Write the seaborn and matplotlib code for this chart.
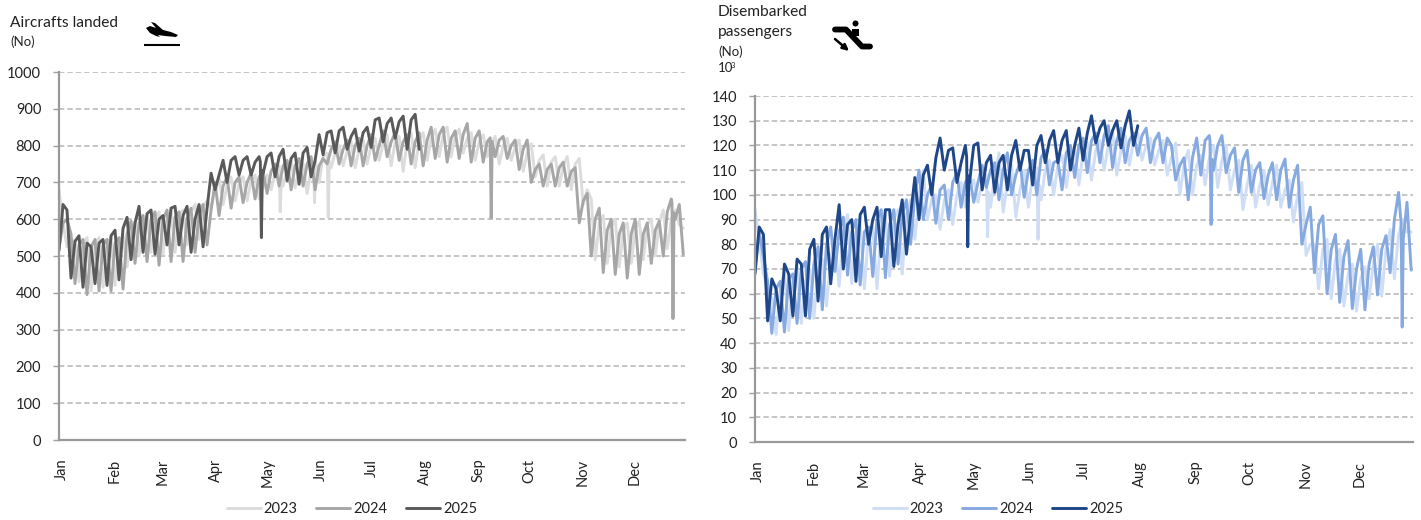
import numpy as np
import pandas as pd
import matplotlib
matplotlib.use("Agg")
import matplotlib.pyplot as plt
from matplotlib.patches import Polygon, Circle, Rectangle
from matplotlib.transforms import ScaledTranslation
import seaborn as sns

sns.set_style("white")
plt.rcParams['font.family'] = ['Lato', 'DejaVu Sans']

months = ["Jan", "Feb", "Mar", "Apr", "May", "Jun", "Jul", "Aug", "Sep", "Oct", "Nov", "Dec"]
month_start = [0, 31, 59, 90, 120, 151, 181, 212, 243, 273, 304, 334]
years = ["2023", "2024", "2025"]

# values, three samples per week
air_2023 = [680, 590, 525, 545, 540, 430, 530, 550, 405, 530, 550, 415, 535, 550, 420, 540, 555, 470, 570, 595,
            500, 590, 610, 510, 600, 620, 505, 600, 625, 510, 610, 625, 530, 620, 640, 545, 635, 650, 630, 680, 710,
            640, 690, 715, 650, 695, 715, 650, 705, 720, 655, 690, 720, 680, 725, 745, 690, 735, 760, 685, 730, 750,
            670, 735, 765, 700, 770, 780, 740, 780, 800, 745, 785, 810, 740, 790, 815, 750, 800, 820, 760, 805, 830,
            745, 810, 825, 730, 810, 835, 740, 815, 835, 760, 820, 845, 770, 830, 850, 770, 825, 845, 780, 820, 835,
            760, 810, 830, 770, 805, 825, 750, 800, 820, 760, 795, 815, 730, 780, 805, 715, 760, 775, 690, 755, 770,
            690, 745, 770, 680, 750, 765, 640, 680, 655, 490, 590, 610, 480, 580, 600, 470, 570, 590, 480, 575, 595,
            490, 585, 600, 500, 590, 625, 520, 600, 625, 585, 575]
air_2024 = [520, 590, 600, 560, 425, 530, 545, 395, 525, 545, 405, 530, 545, 405, 535, 550, 410, 560, 595,
            480, 590, 610, 485, 600, 620, 475, 600, 625, 485, 605, 620, 485, 600, 630, 510, 610, 640, 530, 625, 700,
            610, 690, 715, 630, 700, 715, 645, 700, 725, 655, 715, 730, 670, 730, 750, 690, 745, 760, 680, 745, 765,
            690, 750, 770, 680, 745, 765, 750, 790, 810, 750, 790, 815, 745, 800, 820, 745, 800, 830, 760, 800, 840,
            770, 810, 835, 760, 810, 830, 750, 810, 835, 745, 815, 850, 765, 830, 850, 755, 820, 840, 765, 830, 860,
            755, 820, 840, 755, 810, 825, 770, 815, 825, 765, 800, 815, 735, 790, 815, 700, 735, 750, 690, 735, 750,
            690, 740, 755, 690, 730, 740, 590, 650, 670, 500, 600, 630, 455, 570, 600, 450, 560, 590, 440, 560, 600,
            450, 560, 590, 480, 570, 595, 500, 620, 655, 600, 640, 505]
air_2025 = [515, 640, 625, 440, 540, 555, 415, 535, 525, 425, 535, 545, 420, 555, 570, 435, 575, 605, 490, 590, 635,
            510, 615, 625, 505, 600, 610, 530, 630, 635, 530, 610, 635, 510, 600, 640, 525, 630, 725, 680, 720, 760,
            700, 760, 770, 720, 760, 770, 720, 755, 770, 725, 770, 780, 715, 770, 790, 705, 765, 780, 695, 780, 795,
            715, 760, 830, 775, 835, 840, 780, 840, 850, 790, 825, 845, 785, 835, 850, 795, 870, 875, 810, 860, 875,
            820, 865, 880, 790, 870, 885, 790]

pax_2023 = [94, 82, 68, 62, 58, 43.5, 62, 69, 45, 66, 71, 48, 65, 70, 50, 70, 74, 55, 75, 80,
            63, 85, 92, 64, 85, 88, 62, 85, 87, 62, 86, 92, 67, 90, 94, 68, 92, 98, 82, 100, 110,
            90, 98, 100, 86, 98, 102, 88, 100, 105, 95, 103, 106, 97, 105, 108, 95, 108, 117, 93, 105, 112,
            91, 102, 110, 95, 108, 111, 98, 110, 114, 100, 112, 116, 103, 115, 118, 104, 117, 121, 106, 118, 122,
            110, 120, 126, 108, 118, 124, 112, 122, 125, 114, 120, 123, 112, 118, 122, 108, 115, 121, 100, 112, 118,
            100, 112, 116, 104, 115, 120, 103, 114, 120, 102, 110, 114, 94, 104, 112, 95, 104, 110, 96, 105, 112,
            95, 102, 106, 89, 100, 105, 75.5, 80, 80, 62, 78, 82, 58, 74, 78, 55, 68, 72, 53, 66, 71,
            58, 72, 80, 59, 78, 86, 66, 84, 90, 85, 85]
pax_2024 = [70, 85, 75, 65, 44, 62, 65, 44.5, 66, 68, 48, 70, 73, 50, 72, 79, 53.5, 80, 87,
            69, 85, 91, 67.5, 85, 90, 63.5, 85, 87, 67, 90, 94, 66.5, 88, 94, 72, 92, 98, 80, 100, 110,
            90, 100, 104, 88.5, 102, 104, 90, 105, 109, 95, 105, 108, 97, 105, 112, 103, 110, 113, 98, 110, 117,
            100, 108, 113, 99, 110, 114, 100, 115, 118, 104, 113, 114, 102, 117, 120, 107, 120, 123, 109, 122, 125,
            113, 124, 128, 111, 122, 127, 113, 122, 125, 116, 124, 127, 113, 122, 125, 113, 123, 120, 106, 112, 115,
            98, 115, 123, 108, 122, 124, 110, 120, 124, 109, 116, 119, 101, 114, 118, 101, 110, 113, 98.5, 108, 113,
            98, 110, 114.5, 95, 106, 112, 80, 88, 95, 68.5, 88, 91.5, 60, 78, 84, 56.5, 75, 81.5, 54, 70, 78,
            53.5, 72, 79, 59.5, 78, 83.5, 68.5, 90, 101, 80, 97, 69.5]
pax_2025 = [68, 87, 84, 49, 66, 62, 49, 72, 68, 51, 74, 72, 51, 78, 82, 57, 84, 87, 64, 82, 96,
            70, 88, 90, 65, 92, 95, 80, 90, 95, 75, 94, 94, 71, 88, 98, 76, 92, 107, 90, 108, 112,
            100, 115, 123, 110, 118, 119, 105, 113, 120, 105, 120, 121, 102, 113, 116, 101, 113, 116, 102, 116, 122,
            110, 118, 118, 104, 120, 124, 113, 122, 126, 113, 122, 126, 110, 120, 127, 114, 125, 132, 121, 127, 130,
            120, 126, 130, 119, 128, 134, 120, 128]

# one-day drops: day of year, value
air_dips = {"2023": [(129, 620), (149, 645), (157, 605)], "2024": [(252, 603), (358, 330)], "2025": [(118, 550)]}
pax_dips = {"2023": [(129, 83), (157, 82)], "2024": [(253, 88), (359, 46.5)], "2025": [(118, 79)]}

grey_colors = ["#dcdcdc", "#a6a6a6", "#595959"]
blue_colors = ["#cfdef5", "#86a9e0", "#1f4788"]


def build_frame(series, dips):
    rows = []
    for year, vals in zip(years, series):
        days = np.arange(len(vals)) * 7 / 3
        vals = np.array(vals, dtype=float)
        for d, v in dips[year]:
            before = np.interp(d - 0.6, days, vals)
            after = np.interp(d + 0.6, days, vals)
            keep = np.abs(days - d) > 0.6
            days = np.concatenate([days[keep], [d - 0.6, d, d + 0.6]])
            vals = np.concatenate([vals[keep], [before, v, after]])
            order = np.argsort(days)
            days, vals = days[order], vals[order]
        rows.append(pd.DataFrame({"day": days, "value": vals, "year": year}))
    return pd.concat(rows, ignore_index=True)


def px_axes(fig, x0, x1, ytop, ybot):
    return fig.add_axes([x0 / 1421, 1 - ybot / 520, (x1 - x0) / 1421, (ybot - ytop) / 520])


def panel(ax, df, colors, ymax, step):
    sns.lineplot(data=df, x="day", y="value", hue="year", palette=colors, linewidth=2.1, ax=ax,
                 estimator=None, sort=False, legend=False)
    ax.set_xlim(0, 365)
    ax.set_ylim(0, ymax)
    ax.set_yticks(np.arange(0, ymax + 1, step))
    ax.set_xticks(month_start)
    ax.set_xticklabels(months, rotation=90, fontsize=10.5, color="#222222")
    ax.tick_params(axis="y", left=True, length=4.3, width=1, color="#a0a0a0", labelsize=10.5, pad=8.5,
                   labelcolor="#222222")
    ax.tick_params(axis="x", bottom=False, pad=10)
    # month names sit a little right of the month start
    shift = ScaledTranslation(2.5 / 100, 0, ax.figure.dpi_scale_trans)
    for lab in ax.get_xticklabels():
        lab.set_transform(lab.get_transform() + shift)
    ax.set_xlabel("")
    ax.set_ylabel("")
    ax.set_axisbelow(True)
    ax.grid(axis="y", linestyle=(0, (3.5, 2)), color="#b5b5b5", linewidth=1.1)
    ax.grid(axis="x", visible=False)
    for s in ["top", "right"]:
        ax.spines[s].set_visible(False)
    for s in ["left", "bottom"]:
        ax.spines[s].set_color("#999999")
        ax.spines[s].set_linewidth(1.6)


def add_legend(fig, colors, cx):
    handles = [plt.Line2D([], [], color=c, linewidth=2.1) for c in colors]
    fig.legend(handles, years, loc="center", bbox_to_anchor=(cx / 1421, 1 - 509 / 520), ncol=3, frameon=False,
               fontsize=10.5, handlelength=2.33, handletextpad=0.2, columnspacing=1.3, labelcolor="#222222")


fig = plt.figure(figsize=(14.21, 5.2), dpi=100)

ax1 = px_axes(fig, 59, 685, 72, 440)
panel(ax1, build_frame([air_2023, air_2024, air_2025], air_dips), grey_colors, 1000, 100)

ax2 = px_axes(fig, 755, 1413, 96, 442)
panel(ax2, build_frame([pax_2023, pax_2024, pax_2025], pax_dips), blue_colors, 140, 10)

add_legend(fig, grey_colors, 352)
add_legend(fig, blue_colors, 998)

# overlay in picture pixels for titles and icons
over = fig.add_axes([0, 0, 1, 1], facecolor="none")
over.set_xlim(0, 1421)
over.set_ylim(520, 0)
over.axis("off")

over.text(10, 23, "Aircrafts landed", fontsize=11.2, color="#222222", va="center")
over.text(10, 42, "(No)", fontsize=9.5, color="#222222", va="center")
over.text(718, 12, "Disembarked", fontsize=11.2, color="#222222", va="center")
over.text(718, 32, "passengers", fontsize=11.2, color="#222222", va="center")
over.text(718, 52, "(No)", fontsize=9.5, color="#222222", va="center")
over.text(718, 68, "10", fontsize=9.5, color="#222222", va="center")
over.text(731, 65, "3", fontsize=5.5, color="#222222", va="center")

# plane icon
over.add_patch(Polygon([(146, 28), (150, 26), (156, 28), (151, 22), (155, 23), (163, 30), (171, 32), (178, 35),
                        (176, 37), (165, 36), (158, 35), (160, 37), (156, 36), (150, 33)], color="black", lw=0))
over.plot([144, 180], [44.5, 44.5], color="black", lw=1.5, solid_capstyle="butt")

# escalator icon
over.plot([835, 846, 862, 870], [29.5, 29.5, 46.5, 46.5], color="black", lw=4.2, solid_capstyle="round",
          solid_joinstyle="round")
over.add_patch(Circle((855.5, 23.5), 3, color="black", lw=0))
over.add_patch(Rectangle((852, 28.5), 6.5, 7, color="black", lw=0))
over.annotate("", xy=(849, 51), xytext=(835, 39),
              arrowprops=dict(arrowstyle="-|>", color="black", lw=1.8, mutation_scale=9, shrinkA=0, shrinkB=0))

fig.savefig("out.png", dpi=100)
plt.close(fig)
